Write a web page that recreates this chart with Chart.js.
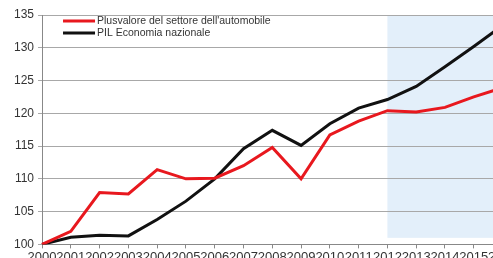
<!DOCTYPE html>
<html>
<head>
<meta charset="utf-8">
<script src="https://cdn.jsdelivr.net/npm/chart.js@4.4.0/dist/chart.umd.min.js"></script>
<style>
  html, body { margin: 0; padding: 0; overflow: hidden; background: #fff; }
  #wrap { width: 518px; height: 266px; }
</style>
</head>
<body>
<div id="wrap"><canvas id="chart" width="518" height="266"></canvas></div>
<script>
// values (index 2000 = 100)
const years = ["2000", "2001", "2002", "2003", "2004", "2005", "2006", "2007", "2008",
  "2009", "2010", "2011", "2012", "2013", "2014", "2015", "2016"];
const plusvalore = [100, 102, 107.9, 107.7, 111.4, 110, 110.1, 112, 114.8,
  110, 116.7, 118.8, 120.4, 120.2, 120.9, 122.5, 123.9];
const pil = [100, 101.1, 101.4, 101.3, 103.8, 106.6, 110, 114.6, 117.4,
  115.1, 118.4, 120.8, 122.1, 124.1, 127.1, 130.2, 133.4];
const yTicks = [100, 105, 110, 115, 120, 125, 130, 135];
const forecastFrom = "2012";

const seriesNames = ["Plusvalore del settore dell'automobile", "PIL Economia nazionale"];

// light blue band for the forecast years
const shadePlugin = {
  id: "shade",
  beforeDraw(chart) {
    const { ctx, scales: { x, y } } = chart;
    const left = x.getPixelForValue(years.indexOf(forecastFrom));
    const top = y.getPixelForValue(135);
    const bottom = y.getPixelForValue(101);
    ctx.save();
    ctx.fillStyle = "#e3effa";
    ctx.fillRect(left, top, chart.width - left, bottom - top);
    ctx.restore();
  }
};

// legend drawn inside the plot, top left
const legendPlugin = {
  id: "innerLegend",
  afterDatasetsDraw(chart) {
    const ctx = chart.ctx;
    const x0 = chart.chartArea.left + 21;
    const y0 = chart.chartArea.top + 6;
    ctx.save();
    ctx.font = "10.5px 'Liberation Sans', Arial, sans-serif";
    ctx.textBaseline = "middle";
    chart.data.datasets.forEach((ds, i) => {
      const yy = y0 + i * 12;
      ctx.strokeStyle = ds.borderColor;
      ctx.lineWidth = 3;
      ctx.beginPath();
      ctx.moveTo(x0, yy);
      ctx.lineTo(x0 + 32, yy);
      ctx.stroke();
      ctx.fillStyle = "#333";
      ctx.fillText(ds.label, x0 + 34, yy);
    });
    ctx.restore();
  }
};

new Chart(document.getElementById("chart"), {
  type: "line",
  data: {
    labels: years,
    datasets: [
      { label: seriesNames[0], data: plusvalore, borderColor: "#e8181e", borderWidth: 3,
        pointRadius: 0, tension: 0, fill: false },
      { label: seriesNames[1], data: pil, borderColor: "#111111", borderWidth: 3,
        pointRadius: 0, tension: 0, fill: false }
    ]
  },
  options: {
    responsive: false,
    animation: false,
    devicePixelRatio: 1,
    layout: { padding: { top: 15, left: 10, right: 6, bottom: 0 } },
    plugins: { legend: { display: false }, tooltip: { enabled: false } },
    scales: {
      x: {
        offset: false,
        grid: { display: true, drawOnChartArea: false, color: "#888", tickLength: 4 },
        border: { color: "#888" },
        ticks: {
          autoSkip: false, maxRotation: 0, minRotation: 0, padding: 1,
          color: "#333", font: { family: "'Liberation Sans', Arial, sans-serif", size: 13 }
        }
      },
      y: {
        min: 100, max: 135,
        afterBuildTicks(axis) { axis.ticks = yTicks.map(v => ({ value: v })); },
        grid: { color: "#a8a8a8", tickLength: 4, lineWidth: 1 },
        border: { color: "#888", dash: [] },
        ticks: {
          padding: 4, color: "#333",
          font: { family: "'Liberation Sans', Arial, sans-serif", size: 12 }
        }
      }
    }
  },
  plugins: [shadePlugin, legendPlugin]
});
</script>
</body>
</html>
